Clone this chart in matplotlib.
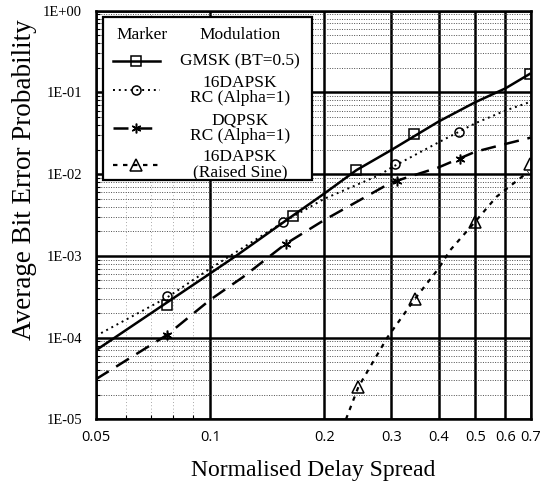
import numpy as np
import matplotlib
matplotlib.use("Agg")
import matplotlib.pyplot as plt
from matplotlib.lines import Line2D
from matplotlib.patches import Rectangle
from matplotlib.ticker import FixedLocator, NullFormatter

# marker points
gmsk_x = [0.077, 0.165, 0.243, 0.344, 0.695]
gmsk_y = [2.5e-4, 3.1e-3, 1.12e-2, 3.1e-2, 1.68e-1]
dapsk_rc_x = [0.077, 0.156, 0.308, 0.453]
dapsk_rc_y = [3.2e-4, 2.6e-3, 1.33e-2, 3.3e-2]
dqpsk_x = [0.077, 0.158, 0.31, 0.456]
dqpsk_y = [1.08e-4, 1.4e-3, 8.3e-3, 1.54e-2]
dapsk_rs_x = [0.246, 0.347, 0.499, 0.698]
dapsk_rs_y = [2.5e-5, 3.0e-4, 2.6e-3, 1.35e-2]

# fitted curves
gmsk_cx = [0.05, 0.1, 0.117, 0.165, 0.2, 0.243, 0.3, 0.4, 0.5, 0.6, 0.695]
gmsk_cy = [7.0e-5, 6.1e-4, 1.0e-3, 3.1e-3, 5.8e-3, 1.12e-2, 1.97e-2, 4.4e-2, 7.6e-2, 1.12e-1, 1.68e-1]
dapsk_rc_cx = [0.05, 0.077, 0.1, 0.156, 0.2, 0.28, 0.3, 0.4, 0.5, 0.6, 0.7]
dapsk_rc_cy = [1.05e-4, 3.1e-4, 7.0e-4, 2.6e-3, 5.0e-3, 9.8e-3, 1.2e-2, 2.45e-2, 4.2e-2, 6.0e-2, 7.7e-2]
dqpsk_cx = [0.05, 0.077, 0.1, 0.122, 0.158, 0.2, 0.3, 0.4, 0.5, 0.6, 0.7]
dqpsk_cy = [3.1e-5, 1.08e-4, 2.9e-4, 5.5e-4, 1.4e-3, 2.75e-3, 7.9e-3, 1.21e-2, 1.88e-2, 2.34e-2, 2.8e-2]
dapsk_rs_cx = [0.228, 0.246, 0.293, 0.347, 0.4, 0.429, 0.499, 0.569, 0.69]
dapsk_rs_cy = [1.0e-5, 2.5e-5, 1.0e-4, 3.0e-4, 7.0e-4, 1.17e-3, 2.6e-3, 5.3e-3, 1.07e-2]

x_ticks = [0.05, 0.1, 0.2, 0.3, 0.4, 0.5, 0.6, 0.7]
x_labels = ["0.05", "0.1", "0.2", "0.3", "0.4", "0.5", "0.6", "0.7"]
y_ticks = [1e-5, 1e-4, 1e-3, 1e-2, 1e-1, 1e0]
y_labels = ["1E-05", "1E-04", "1E-03", "1E-02", "1E-01", "1E+00"]

serif = "Liberation Serif"

fig = plt.figure(figsize=(5.46, 4.86), dpi=100)
ax = fig.add_axes([0.1758, 0.1372, 0.7962, 0.8407])
ax.set_xscale("log")
ax.set_yscale("log")
ax.set_xlim(0.05, 0.7)
ax.set_ylim(1e-5, 1)

# grid
ax.xaxis.set_major_locator(FixedLocator(x_ticks))
ax.xaxis.set_minor_locator(FixedLocator([0.06, 0.07, 0.08, 0.09]))
ax.xaxis.set_minor_formatter(NullFormatter())
ax.set_xticklabels(x_labels, fontfamily="Open Sans", fontsize=10.5)
ax.yaxis.set_major_locator(FixedLocator(y_ticks))
ax.yaxis.set_minor_locator(FixedLocator([m * 10.0 ** e for e in range(-5, 0) for m in range(2, 10)]))
ax.yaxis.set_minor_formatter(NullFormatter())
ax.set_yticklabels(y_labels, fontfamily=serif, fontsize=10.5)
ax.grid(which="major", color="black", lw=1.8, ls="-")
ax.grid(which="minor", axis="y", color="0.3", lw=0.7, ls=(0, (1, 1.5)))
ax.grid(which="minor", axis="x", color="0.55", lw=0.6, ls=(0, (1, 3)))
ax.tick_params(which="major", length=0, pad=8)
ax.tick_params(axis="y", which="major", pad=10)
ax.tick_params(which="minor", direction="in", length=3, width=0.8)
ax.set_axisbelow(True)
for s in ax.spines.values():
    s.set_linewidth(1.8)

# curves + markers
ax.plot(gmsk_cx, gmsk_cy, color="black", lw=1.8, zorder=3)
ax.plot(gmsk_x, gmsk_y, ls="none", marker="s", ms=7, mfc="none", mec="black", mew=1.1, zorder=4)
ax.plot(dapsk_rc_cx, dapsk_rc_cy, color="black", lw=1.4, ls=(0, (1, 2)), zorder=3)
ax.plot(dapsk_rc_x, dapsk_rc_y, ls="none", marker="o", ms=6.5, mfc="none", mec="black", mew=1.1, zorder=4)
ax.plot(dqpsk_cx, dqpsk_cy, color="black", lw=1.8, ls=(0, (6, 3.5)), zorder=3)
ax.plot(dqpsk_x, dqpsk_y, ls="none", marker=(6, 2, 0), ms=7, mec="black", mew=1.1, zorder=4)
ax.plot(dapsk_rs_cx, dapsk_rs_cy, color="black", lw=1.6, ls=(0, (2, 2.5)), zorder=3)
ax.plot(dapsk_rs_x, dapsk_rs_y, ls="none", marker="^", ms=8, mfc="none", mec="black", mew=1.1, zorder=4)

ax.set_xlabel("Normalised Delay Spread", fontfamily=serif, fontsize=17)
ax.xaxis.set_label_coords(0.5, -0.1)
ax.set_ylabel("Average Bit Error Probability", fontfamily=serif, fontsize=19.5)
ax.yaxis.set_label_coords(-0.135, 0.586)

# hand-drawn legend box
ax.add_patch(Rectangle((0.017, 0.586), 0.481, 0.398, transform=ax.transAxes,
                       facecolor="white", edgecolor="black", lw=1.6, zorder=5))
ax.text(0.107, 0.94, "Marker", transform=ax.transAxes, ha="center", va="center",
        fontfamily=serif, fontsize=12.5, zorder=6)
ax.text(0.331, 0.94, "Modulation", transform=ax.transAxes, ha="center", va="center",
        fontfamily=serif, fontsize=12.5, zorder=6)

entries = [
    ("GMSK (BT=0.5)", 0.877, dict(ls="-", lw=1.8, marker="s", ms=7, mfc="none")),
    ("16DAPSK\nRC (Alpha=1)", 0.805, dict(ls=(0, (1, 2)), lw=1.4, marker="o", ms=6.5, mfc="none")),
    ("DQPSK\nRC (Alpha=1)", 0.712, dict(ls=(0, (6, 3.5)), lw=1.8, marker=(6, 2, 0), ms=7)),
    ("16DAPSK\n(Raised Sine)", 0.622, dict(ls=(0, (2, 2.5)), lw=1.6, marker="^", ms=8, mfc="none")),
]
for label, yy, style in entries:
    ax.add_line(Line2D([0.039, 0.147], [yy, yy], transform=ax.transAxes, color="black",
                       zorder=6, ls=style["ls"], lw=style["lw"]))
    ax.add_line(Line2D([0.093], [yy], transform=ax.transAxes, ls="none", color="black",
                       marker=style["marker"], ms=style["ms"], mfc=style.get("mfc", "black"),
                       mec="black", mew=1.1, zorder=7))
    ax.text(0.331, yy, label, transform=ax.transAxes, ha="center", va="center",
            fontfamily=serif, fontsize=12.5, linespacing=0.95, zorder=6)

fig.savefig("out.png", dpi=100)
plt.close(fig)
